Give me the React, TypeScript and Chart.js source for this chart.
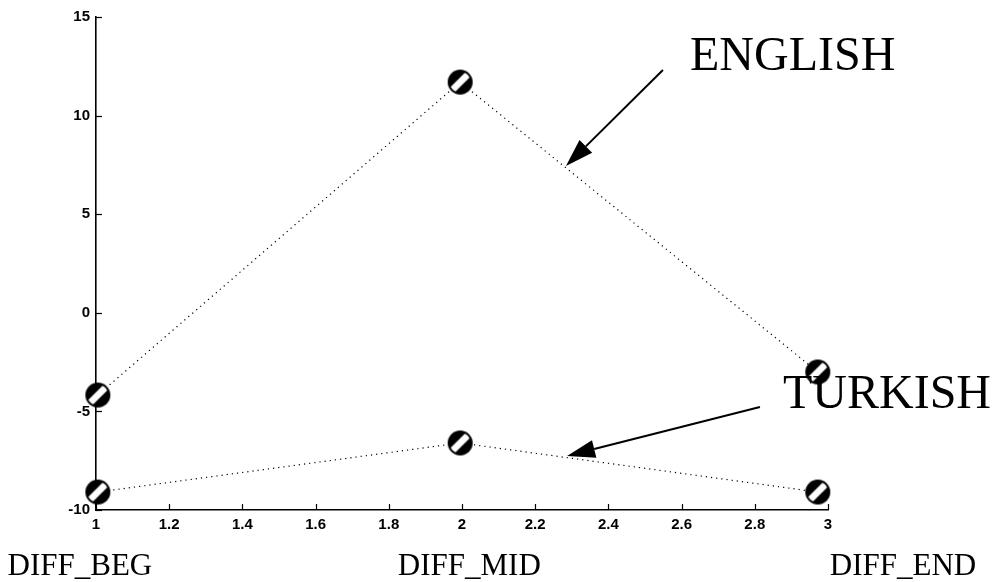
import React, { useEffect, useRef } from "react";
import { Chart, registerables } from "chart.js";

Chart.register(...registerables);

// Condition names shown under the x axis
const conditions = ["DIFF_BEG", "DIFF_MID", "DIFF_END"];
// Horizontal positions of the three conditions
const conditionX = [1.005, 1.995, 2.972];
// Mean differences per condition
const englishValues = [-4.17, 11.7, -3.0];
const turkishValues = [-9.09, -6.6, -9.09];
// Axis ticks
const xTicks = [1, 1.2, 1.4, 1.6, 1.8, 2, 2.2, 2.4, 2.6, 2.8, 3];
const yTicks = [-10, -5, 0, 5, 10, 15];

const serif = "'Liberation Serif', 'Times New Roman', serif";
const sans = "'Liberation Sans', Arial, Helvetica, sans-serif";

// Circle marker with a white diagonal band
function makeMarker(r: number): HTMLCanvasElement {
  const size = Math.ceil(r * 2 + 2);
  const c = document.createElement("canvas");
  c.width = size;
  c.height = size;
  const g = c.getContext("2d")!;
  const cx = size / 2;
  g.fillStyle = "#000";
  g.beginPath();
  g.arc(cx, cx, r, 0, Math.PI * 2);
  g.fill();
  g.save();
  g.beginPath();
  g.arc(cx, cx, r - 2, 0, Math.PI * 2);
  g.clip();
  g.translate(cx, cx);
  g.rotate(-Math.PI / 4);
  g.fillStyle = "#fff";
  g.fillRect(-r, -3.3, 2 * r, 6.6);
  g.restore();
  return c;
}

function drawArrow(ctx: CanvasRenderingContext2D, x1: number, y1: number, x2: number, y2: number) {
  const ang = Math.atan2(y2 - y1, x2 - x1);
  const headLen = 28;
  const headHalf = 9;
  const bx = x2 - headLen * Math.cos(ang);
  const by = y2 - headLen * Math.sin(ang);
  ctx.save();
  ctx.strokeStyle = "#000";
  ctx.fillStyle = "#000";
  ctx.lineWidth = 2;
  ctx.beginPath();
  ctx.moveTo(x1, y1);
  ctx.lineTo(bx, by);
  ctx.stroke();
  ctx.beginPath();
  ctx.moveTo(x2, y2);
  ctx.lineTo(bx + headHalf * Math.sin(ang), by - headHalf * Math.cos(ang));
  ctx.lineTo(bx - headHalf * Math.sin(ang), by + headHalf * Math.cos(ang));
  ctx.closePath();
  ctx.fill();
  ctx.restore();
}

// Annotation layout in data units
const seriesLabels = [
  { text: "ENGLISH", x: 2.623, y: 12.31, from: [2.549, 12.31], to: [2.284, 7.44] },
  { text: "TURKISH", x: 2.877, y: -4.83, from: [2.814, -4.78], to: [2.287, -7.26] },
];
const conditionLabelX = [0.956, 2.02, 3.205];
const conditionLabelY = -13.3;

const annotations = {
  id: "annotations",
  afterDraw(chart: any) {
    const { ctx, scales } = chart;
    const xs = scales.x;
    const ys = scales.y;
    const area = chart.chartArea;
    ctx.save();
    ctx.strokeStyle = "#000";
    ctx.lineWidth = 1.2;
    // inward tick marks
    for (const t of xTicks) {
      const px = Math.round(xs.getPixelForValue(t)) + 0.5;
      ctx.beginPath();
      ctx.moveTo(px, area.bottom);
      ctx.lineTo(px, area.bottom - 6);
      ctx.stroke();
    }
    for (const t of yTicks) {
      const py = Math.round(ys.getPixelForValue(t)) + 0.5;
      ctx.beginPath();
      ctx.moveTo(area.left, py);
      ctx.lineTo(area.left + 6, py);
      ctx.stroke();
    }
    // series names with arrows
    ctx.fillStyle = "#000";
    ctx.font = `48px ${serif}`;
    ctx.textAlign = "left";
    ctx.textBaseline = "alphabetic";
    for (const s of seriesLabels) {
      ctx.fillText(s.text, xs.getPixelForValue(s.x), ys.getPixelForValue(s.y));
      drawArrow(
        ctx,
        xs.getPixelForValue(s.from[0]),
        ys.getPixelForValue(s.from[1]),
        xs.getPixelForValue(s.to[0]),
        ys.getPixelForValue(s.to[1])
      );
    }
    // condition names
    ctx.font = `31px ${serif}`;
    ctx.textAlign = "center";
    conditions.forEach((name, i) => {
      ctx.fillText(name, xs.getPixelForValue(conditionLabelX[i]), ys.getPixelForValue(conditionLabelY));
    });
    ctx.restore();
  },
};

export default function App() {
  const ref = useRef<HTMLCanvasElement | null>(null);

  useEffect(() => {
    document.body.style.margin = "0";
    const canvas = ref.current!;
    const marker = makeMarker(12.5);
    const lineStyle = {
      borderColor: "#000",
      borderWidth: 1.2,
      borderDash: [1.2, 4],
      pointStyle: marker as any,
      pointRadius: 12,
      pointHoverRadius: 12,
      tension: 0,
      fill: false,
      clip: false as any,
    };
    const chart = new Chart(canvas, {
      type: "line",
      data: {
        datasets: [
          {
            label: "ENGLISH",
            data: conditionX.map((x, i) => ({ x, y: englishValues[i] })),
            ...lineStyle,
          },
          {
            label: "TURKISH",
            data: conditionX.map((x, i) => ({ x, y: turkishValues[i] })),
            ...lineStyle,
          },
        ],
      },
      options: {
        animation: false,
        responsive: false,
        events: [],
        layout: { padding: { top: 17, right: 169, left: 0, bottom: 0 } },
        plugins: { legend: { display: false }, tooltip: { enabled: false } },
        scales: {
          x: {
            type: "linear",
            min: 1,
            max: 3,
            afterFit: (s: any) => {
              s.height = 72;
            },
            afterBuildTicks: (s: any) => {
              s.ticks = xTicks.map((v) => ({ value: v }));
            },
            ticks: {
              autoSkip: false,
              maxRotation: 0,
              padding: 6,
              color: "#000",
              font: { family: sans, size: 15, weight: "bold" },
              callback: (v: any) => String(Math.round(Number(v) * 10) / 10),
            },
            grid: { drawOnChartArea: false, drawTicks: false, color: "rgba(0,0,0,0)" },
            border: { display: true, color: "#000", width: 1.6 },
          },
          y: {
            type: "linear",
            min: -10,
            max: 15,
            afterFit: (s: any) => {
              s.width = 96;
            },
            afterBuildTicks: (s: any) => {
              s.ticks = yTicks.map((v) => ({ value: v }));
            },
            ticks: {
              padding: 6,
              color: "#000",
              font: { family: sans, size: 15, weight: "bold" },
            },
            grid: { drawOnChartArea: false, drawTicks: false, color: "rgba(0,0,0,0)" },
            border: { display: true, color: "#000", width: 1.6 },
          },
        },
      },
      plugins: [annotations],
    });
    return () => chart.destroy();
  }, []);

  return (
    <div style={{ position: "absolute", left: 0, top: 0, width: 997, height: 582, background: "#fff" }}>
      <canvas ref={ref} width={997} height={582} />
    </div>
  );
}
